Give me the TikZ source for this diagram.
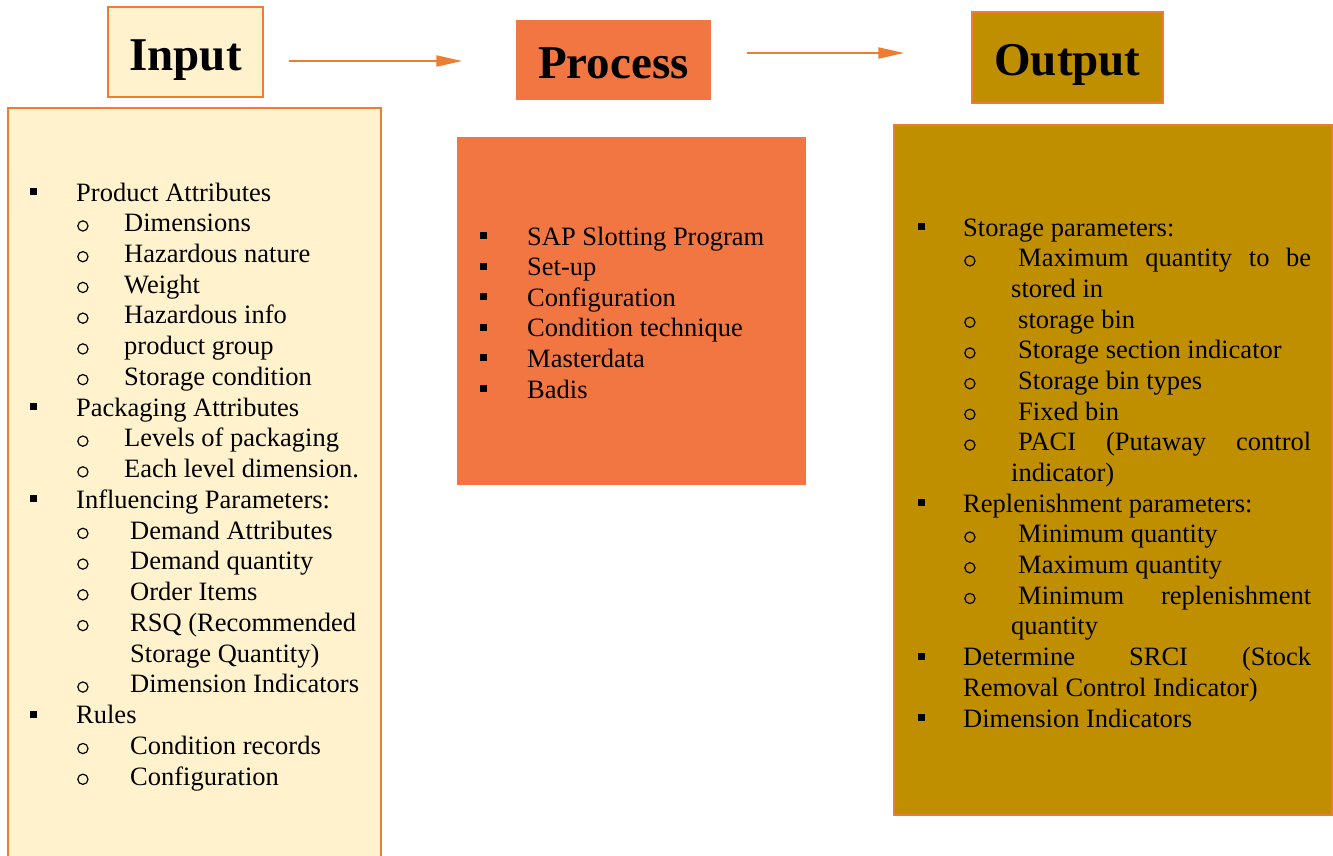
\documentclass[tikz,border=0pt]{standalone}
\usepackage{fontspec}
\setmainfont{Liberation Serif}
\usetikzlibrary{arrows.meta,positioning}

\definecolor{edgeorange}{RGB}{237,125,49}
\definecolor{inputfill}{RGB}{255,242,204}
\definecolor{procfill}{RGB}{242,118,66}
\definecolor{outfill}{RGB}{191,143,0}

\newcommand{\listfont}{\fontsize{26.5}{31}\selectfont}
\newcommand{\titlefont}{\fontsize{47}{50}\selectfont\bfseries}
% list marks, each in a box of given width
\newcommand{\sqb}[1]{\makebox[#1pt][l]{\raisebox{6pt}{\rule{7pt}{7pt}}}}
\newcommand{\ob}[1]{\makebox[#1pt][l]{\tikz[baseline={(0pt,-5.8pt)}]\draw[line width=1.2pt] (5.5pt,0pt) circle [radius=5.1pt];}}
\newcommand{\just}[2]{\makebox[#1pt][s]{#2}}

\tikzset{
  headbox/.style={rectangle, line width=1.5pt, font=\titlefont, inner sep=0pt,
    text height=36pt, text depth=0pt},
  listline/.style={anchor=base west, inner sep=0pt, font=\listfont},
  flow/.style={-{Triangle[length=26pt,width=11pt]}, draw=edgeorange, line width=2pt},
}

\begin{document}
\begin{tikzpicture}[x=1pt, y=-1pt]
  \useasboundingbox (0,0) rectangle (1333,855);

  % headings
  \node[headbox, draw=edgeorange, fill=inputfill, minimum width=155pt, minimum height=90pt] (intitle) at (185.5,52) {Input};
  \node[headbox, fill=procfill, minimum width=195pt, minimum height=80pt] (proctitle) at (613.5,60) {Process};
  \node[headbox, draw=edgeorange, fill=outfill, minimum width=191pt, minimum height=91pt] (outtitle) at (1067.5,57.5) {Output};

  \draw[flow] ([xshift=25pt,yshift=-1pt]intitle.east |- proctitle) -- ([xshift=-53pt,yshift=-1pt]proctitle.west);
  \draw[flow] ([xshift=35pt,yshift=7pt]proctitle.east) -- ([xshift=-67pt,yshift=4.5pt]outtitle.west);

  % panels
  \fill[inputfill] (8,108) rectangle (381,856);
  \draw[edgeorange, line width=1.5pt] (8,856) -- (8,108) -- (381,108) -- (381,856);
  \fill[procfill] (457,137) rectangle (806,485);
  \draw[edgeorange, line width=1.5pt, fill=outfill] (894,125) rectangle (1332,815);

  % input list
  \foreach \x/\t [count=\i] in {
      30/{\sqb{46}Product Attributes},
      77/{\ob{47}Dimensions},
      77/{\ob{47}Hazardous nature},
      77/{\ob{47}Weight},
      77/{\ob{47}Hazardous info},
      77/{\ob{47}product group},
      77/{\ob{47}Storage condition},
      30/{\sqb{46}Packaging Attributes},
      77/{\ob{47}Levels of packaging},
      77/{\ob{47}Each level dimension.},
      30/{\sqb{46}Influencing Parameters:},
      77/{\ob{53}Demand Attributes},
      77/{\ob{53}Demand quantity},
      77/{\ob{53}Order Items},
      77/{\ob{53}RSQ (Recommended},
      130/{Storage Quantity)},
      77/{\ob{53}Dimension Indicators},
      30/{\sqb{46}Rules},
      77/{\ob{53}Condition records},
      77/{\ob{53}Configuration}}
    \node[listline] (in\i) at (\x,{201+30.74*(\i-1)}) {\t};

  % process list
  \foreach \t [count=\i] in {SAP Slotting Program, Set-up, Configuration,
      Condition technique, Masterdata, Badis}
    \node[listline] (proc\i) at (480,{245+30.6*(\i-1)}) {\sqb{47}\t};

  % output list
  \foreach \x/\t [count=\i] in {
      918/{\sqb{45}Storage parameters:},
      964/{\ob{54}\just{293}{Maximum quantity to be}},
      1011/{stored in},
      964/{\ob{54}storage bin},
      964/{\ob{54}Storage section indicator},
      964/{\ob{54}Storage bin types},
      964/{\ob{54}Fixed bin},
      964/{\ob{54}\just{293}{PACI (Putaway control}},
      1011/{indicator)},
      918/{\sqb{45}Replenishment parameters:},
      964/{\ob{54}Minimum quantity},
      964/{\ob{54}Maximum quantity},
      964/{\ob{54}\just{293}{Minimum replenishment}},
      1011/{quantity},
      918/{\sqb{45}\just{348}{Determine SRCI (Stock}},
      963/{Removal Control Indicator)},
      918/{\sqb{45}Dimension Indicators}}
    \node[listline] (out\i) at (\x,{236+30.69*(\i-1)}) {\t};
\end{tikzpicture}
\end{document}
